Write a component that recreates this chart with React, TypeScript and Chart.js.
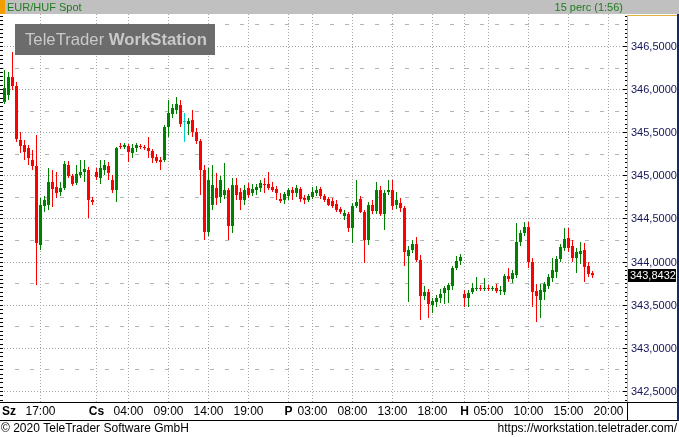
import React, { useEffect, useRef } from 'react';
import { Chart, registerables } from 'chart.js';

Chart.register(...registerables);

// EUR/HUF spot, 30-minute candles (Wed 12:30 .. Mon 18:30), compressed-hour time axis
const OPEN = [
  345.851, 345.932, 346.141, 346.036, 345.410, 345.352, 345.317, 345.178, 345.109, 344.193,
  344.645, 344.657, 344.923, 344.865, 344.807, 344.854, 345.120, 344.993, 344.912, 345.004,
  345.039, 345.062, 344.715, 345.039, 344.970, 345.062, 345.109, 344.946, 344.830, 345.341,
  345.329, 345.341, 345.259, 345.317, 345.341, 345.329, 345.317, 345.283, 345.213, 345.178,
  345.178, 345.561, 345.712, 345.758, 345.816, 345.619, 345.596, 345.642, 345.503, 345.399,
  345.062, 344.344, 344.657, 344.854, 344.749, 344.772, 344.830, 344.413, 344.888, 344.807,
  344.715, 344.854, 344.796, 344.830, 344.854, 344.900, 344.900, 344.865, 344.842, 344.726,
  344.715, 344.761, 344.830, 344.796, 344.842, 344.738, 344.715, 344.749, 344.796, 344.842,
  344.761, 344.726, 344.703, 344.668, 344.610, 344.529, 344.552, 344.390, 344.645, 344.726,
  344.575, 344.251, 344.657, 344.587, 344.830, 344.552, 344.807, 344.830, 344.657, 344.680,
  344.622, 344.065, 344.135, 344.204, 344.019, 343.601, 343.648, 343.497, 343.532, 343.578,
  343.636, 343.671, 343.717, 343.926, 344.007, 343.625, 343.578, 343.648, 343.683, 343.694,
  343.683, 343.694, 343.683, 343.694, 343.659, 343.648, 343.833, 343.799, 343.845, 344.228,
  344.332, 344.401, 343.996, 343.659, 343.555, 343.648, 343.717, 343.810, 343.880, 344.030,
  344.158, 344.274, 344.181, 344.042, 344.088, 344.135, 343.949, 343.868,
];
const HIGH = [
  346.222, 346.199, 346.430, 346.083, 345.503, 345.410, 345.352, 345.294, 345.468, 344.738,
  344.761, 345.086, 345.062, 345.039, 344.923, 345.167, 345.167, 345.016, 345.120, 345.178,
  345.178, 345.097, 344.749, 345.086, 345.178, 345.178, 345.155, 345.004, 345.329, 345.375,
  345.375, 345.364, 345.364, 345.375, 345.364, 345.352, 345.445, 345.306, 345.248, 345.213,
  345.584, 345.874, 345.828, 345.909, 345.874, 345.723, 345.665, 345.758, 345.549, 345.422,
  345.120, 345.086, 345.120, 345.028, 344.993, 345.143, 344.854, 344.970, 344.970, 344.854,
  344.888, 344.912, 344.900, 344.900, 344.946, 344.970, 345.039, 344.923, 344.877, 344.796,
  344.807, 344.854, 344.865, 344.888, 344.865, 344.772, 344.784, 344.865, 344.877, 344.865,
  344.784, 344.749, 344.738, 344.715, 344.633, 344.599, 344.575, 344.680, 344.946, 344.761,
  344.599, 344.691, 344.715, 344.923, 344.877, 344.830, 344.946, 344.946, 344.807, 344.738,
  344.645, 344.181, 344.251, 344.286, 344.077, 343.717, 343.683, 343.578, 343.613, 343.683,
  343.717, 343.752, 343.949, 344.065, 344.088, 343.671, 343.671, 343.752, 343.822, 343.729,
  343.810, 343.729, 343.717, 343.741, 343.717, 343.857, 343.926, 343.903, 344.448, 344.367,
  344.459, 344.459, 344.042, 343.741, 343.741, 343.764, 343.857, 344.042, 344.065, 344.204,
  344.390, 344.390, 344.251, 344.158, 344.228, 344.216, 343.996, 343.891,
];
const LOW = [
  345.828, 345.874, 345.990, 345.387, 345.259, 345.178, 345.120, 345.062, 343.729, 344.135,
  344.575, 344.599, 344.633, 344.738, 344.761, 344.830, 344.970, 344.877, 344.888, 344.970,
  344.923, 344.506, 344.657, 344.946, 344.900, 345.004, 344.946, 344.796, 344.691, 345.306,
  345.306, 345.155, 345.201, 345.271, 345.306, 345.294, 345.201, 345.143, 345.143, 345.062,
  345.155, 345.445, 345.665, 345.712, 345.561, 345.387, 345.468, 345.445, 345.364, 344.772,
  344.251, 344.297, 344.599, 344.657, 344.680, 344.726, 344.251, 344.332, 344.715, 344.599,
  344.657, 344.738, 344.761, 344.772, 344.807, 344.796, 344.830, 344.807, 344.715, 344.680,
  344.668, 344.715, 344.715, 344.749, 344.691, 344.668, 344.691, 344.726, 344.761, 344.726,
  344.691, 344.645, 344.622, 344.575, 344.552, 344.483, 344.344, 344.216, 344.622, 344.564,
  343.984, 344.193, 344.552, 344.552, 344.529, 344.367, 344.772, 344.599, 344.610, 344.575,
  343.949, 343.532, 344.100, 343.996, 343.323, 343.555, 343.346, 343.404, 343.474, 343.520,
  343.509, 343.520, 343.671, 343.903, 343.961, 343.474, 343.474, 343.625, 343.659, 343.659,
  343.659, 343.659, 343.659, 343.636, 343.613, 343.613, 343.764, 343.752, 343.810, 344.181,
  344.297, 343.926, 343.474, 343.300, 343.346, 343.555, 343.683, 343.764, 343.810, 343.996,
  344.123, 344.112, 343.996, 343.868, 343.972, 343.764, 343.822, 343.810,
];
const CLOSE = [
  346.013, 346.141, 346.036, 345.422, 345.341, 345.271, 345.201, 345.109, 344.216, 344.657,
  344.715, 344.923, 344.842, 344.796, 344.854, 345.132, 344.993, 344.900, 345.016, 345.039,
  345.074, 344.715, 344.691, 344.981, 345.086, 345.120, 345.028, 344.830, 345.317, 345.329,
  345.352, 345.271, 345.317, 345.352, 345.329, 345.317, 345.283, 345.201, 345.167, 345.155,
  345.561, 345.723, 345.781, 345.828, 345.596, 345.619, 345.630, 345.503, 345.399, 345.062,
  344.344, 344.946, 344.888, 344.738, 344.946, 344.830, 344.413, 344.888, 344.772, 344.715,
  344.830, 344.772, 344.842, 344.865, 344.912, 344.888, 344.854, 344.830, 344.796, 344.703,
  344.784, 344.830, 344.796, 344.854, 344.726, 344.715, 344.761, 344.807, 344.830, 344.761,
  344.715, 344.657, 344.645, 344.599, 344.575, 344.564, 344.390, 344.645, 344.691, 344.575,
  344.251, 344.657, 344.587, 344.830, 344.552, 344.796, 344.830, 344.645, 344.715, 344.622,
  344.112, 344.135, 344.204, 344.019, 343.601, 343.648, 343.509, 343.543, 343.578, 343.625,
  343.694, 343.729, 343.926, 344.007, 344.054, 343.578, 343.636, 343.694, 343.694, 343.683,
  343.694, 343.683, 343.694, 343.659, 343.671, 343.833, 343.799, 343.868, 344.228, 344.332,
  344.401, 343.996, 343.648, 343.601, 343.671, 343.741, 343.822, 343.903, 344.030, 344.170,
  344.262, 344.158, 344.042, 344.112, 344.123, 343.938, 343.857, 343.8432,
];

// time axis (hours on the compressed session axis: Thu 00:00 = 24, Fri 00:00 = 48, Mon start = 70)
const FIRST_CANDLE_HOUR = 12.5;
const CANDLE_STEP_HOURS = 0.5;
const HOUR_TICKS = [17, 28, 33, 38, 43, 51, 56, 61, 66, 73, 78, 83, 88];
const HOUR_LABELS = ['17:00', '04:00', '09:00', '14:00', '19:00', '03:00', '08:00', '13:00', '18:00', '05:00', '10:00', '15:00', '20:00'];
const DAY_TICKS = [24, 48, 70];
const DAY_LABELS = ['Cs', 'P', 'H'];
const FIRST_DAY_LABEL = 'Sz';

const PRICE_LEVELS = [342.5, 343.0, 343.5, 344.0, 344.5, 345.0, 345.5, 346.0, 346.5];
const LAST_PRICE = 343.8432;

const TITLE = 'EUR/HUF Spot';
const PERIOD = '15 perc (1:56)';
const COPYRIGHT = '\u00a9 2020 TeleTrader Software GmbH';
const URL_TEXT = 'https://workstation.teletrader.com/';

const W = 679;
const H = 437;
const FONT = '"Liberation Sans", Arial, sans-serif';

const fmt = (v: number) => v.toFixed(4).replace('.', ',');

const framePlugin = {
  id: 'ttFrame',
  beforeDatasetsDraw(chart: any) {
    const { ctx, chartArea: a, scales } = chart;
    const x = scales.x;
    const y = scales.y;
    ctx.save();
    // minor dashed levels
    ctx.lineWidth = 1;
    ctx.strokeStyle = '#b4b4b4';
    ctx.setLineDash([4, 11]);
    for (const p of PRICE_LEVELS.concat([PRICE_LEVELS[PRICE_LEVELS.length - 1] + 0.5])) {
      const v = p - 0.25;
      const py = Math.round(y.getPixelForValue(v)) + 0.5;
      if (py < a.top || py > a.bottom) continue;
      ctx.beginPath();
      ctx.moveTo(0, py);
      ctx.lineTo(a.right, py);
      ctx.stroke();
    }
    // major dotted levels
    ctx.strokeStyle = '#a4a4a4';
    ctx.setLineDash([1, 2]);
    for (const p of PRICE_LEVELS) {
      const py = Math.round(y.getPixelForValue(p)) + 0.5;
      ctx.beginPath();
      ctx.moveTo(4, py);
      ctx.lineTo(a.right, py);
      ctx.stroke();
    }
    // vertical dotted
    for (const t of HOUR_TICKS.concat(DAY_TICKS)) {
      const px = Math.floor(x.getPixelForValue(t)) + 0.5;
      ctx.beginPath();
      ctx.moveTo(px, a.top);
      ctx.lineTo(px, a.bottom);
      ctx.stroke();
    }
    ctx.setLineDash([]);

    // watermark
    ctx.fillStyle = '#6c6c6c';
    ctx.fillRect(15, 24, 200, 31);
    const t1 = 'TeleTrader ';
    const t2 = 'WorkStation';
    let size = 18;
    for (let k = 0; k < 20; k++) {
      ctx.font = `${size}px ${FONT}`;
      const w1 = ctx.measureText(t1).width;
      ctx.font = `bold ${size}px ${FONT}`;
      const w2 = ctx.measureText(t2).width;
      const tot = w1 + w2;
      if (Math.abs(tot - 182) < 0.5) break;
      size = size * 182 / tot;
    }
    ctx.fillStyle = '#c9c9c9';
    ctx.textBaseline = 'middle';
    ctx.textAlign = 'left';
    ctx.font = `${size}px ${FONT}`;
    const w1 = ctx.measureText(t1).width;
    ctx.fillText(t1, 25, 40);
    ctx.font = `bold ${size}px ${FONT}`;
    ctx.fillText(t2, 25 + w1, 40);
    ctx.restore();
  },
  afterDraw(chart: any) {
    const { ctx, chartArea: a, scales } = chart;
    const x = scales.x;
    const y = scales.y;
    ctx.save();
    ctx.setLineDash([]);

    // header bar
    ctx.fillStyle = '#c0c0c0';
    ctx.fillRect(0, 0, W, 14);
    ctx.fillStyle = '#f29d00';
    ctx.fillRect(0, 0, 5, 14);
    ctx.font = `11px ${FONT}`;
    ctx.textBaseline = 'middle';
    ctx.fillStyle = '#1e7d1e';
    ctx.textAlign = 'left';
    ctx.fillText(TITLE, 7, 7.5);
    ctx.textAlign = 'right';
    ctx.fillText(PERIOD, 623, 7.5);

    // right axis area
    ctx.fillStyle = '#ffffff';
    ctx.fillRect(628, 14, W - 628, 388);
    ctx.fillStyle = '#e2b43c';
    ctx.fillRect(627, 15, 1, 388);
    ctx.fillRect(627, 15, 50, 1);
    ctx.fillStyle = '#1b2a66';
    ctx.fillRect(677, 14, 2, 407);

    // ticks on left and right edges
    ctx.fillStyle = '#000000';
    const lo = Math.ceil(y.min * 20);
    const hi = Math.floor(y.max * 20);
    for (let k = lo; k <= hi; k++) {
      const v = k / 20;
      const py = Math.round(y.getPixelForValue(v));
      if (py < a.top + 1 || py > a.bottom - 1) continue;
      const major = k % 10 === 0;
      ctx.fillRect(0, py, 3, 1);
      if (major) ctx.fillRect(623, py, 4, 1);
      else ctx.fillRect(625, py, 2, 1);
    }

    // price labels
    ctx.font = `11px ${FONT}`;
    ctx.textAlign = 'left';
    ctx.textBaseline = 'middle';
    ctx.fillStyle = '#14145a';
    for (const p of PRICE_LEVELS) {
      const py = Math.round(y.getPixelForValue(p));
      ctx.fillText(fmt(p), 631, py + 0.5);
    }
    // last price box
    const lp = Math.round(y.getPixelForValue(LAST_PRICE));
    ctx.fillStyle = '#000000';
    ctx.fillRect(628, lp - 6, 48, 13);
    ctx.fillStyle = '#ffffff';
    ctx.fillText(fmt(LAST_PRICE), 630, lp + 0.5);

    // time axis band
    ctx.fillStyle = '#ffffff';
    ctx.fillRect(0, 403, W, 34);
    ctx.fillStyle = '#000000';
    ctx.fillRect(0, 402, W, 1);
    ctx.fillRect(0, 420, W, 1);
    ctx.fillRect(627, 402, 1, 19);
    ctx.fillStyle = '#1b2a66';
    ctx.fillRect(677, 402, 2, 19);

    ctx.fillStyle = '#000000';
    ctx.textBaseline = 'middle';
    ctx.font = `bold 12px ${FONT}`;
    ctx.textAlign = 'left';
    ctx.fillText(FIRST_DAY_LABEL, 2, 411.5);
    ctx.textAlign = 'center';
    DAY_TICKS.forEach((t, i) => {
      ctx.fillText(DAY_LABELS[i], Math.floor(x.getPixelForValue(t)) + 0.5, 411.5);
    });
    ctx.font = `12px ${FONT}`;
    HOUR_TICKS.forEach((t, i) => {
      ctx.fillText(HOUR_LABELS[i], Math.floor(x.getPixelForValue(t)) + 0.5, 411.5);
    });

    // footer
    ctx.font = `12px ${FONT}`;
    ctx.textAlign = 'left';
    ctx.fillText(COPYRIGHT, 1, 428.5);
    ctx.textAlign = 'right';
    ctx.fillText(URL_TEXT, 677, 428.5);
    ctx.restore();
  },
};

const candleColor = (i: number) =>
  CLOSE[i] > OPEN[i] ? '#008000' : CLOSE[i] < OPEN[i] ? '#ff0000' : '#00d0d0';

export default function App() {
  const ref = useRef<HTMLCanvasElement>(null);

  useEffect(() => {
    document.body.style.margin = '0';
    const canvas = ref.current;
    if (!canvas) return;
    const times = OPEN.map((_, i) => FIRST_CANDLE_HOUR + i * CANDLE_STEP_HOURS);
    const colors = OPEN.map((_, i) => candleColor(i));
    const hiddenAxis = {
      display: false,
      offset: false,
      grid: { display: false, drawTicks: false },
      ticks: { display: false, padding: 0 },
      border: { display: false },
    };
    const chart = new Chart(canvas, {
      type: 'bar',
      data: {
        datasets: [
          {
            label: 'body',
            data: times.map((t, i) => ({ x: t, y: [OPEN[i], CLOSE[i]] })) as any,
            backgroundColor: colors,
            borderWidth: 0,
            barThickness: 3,
            minBarLength: 1,
            grouped: false,
            inflateAmount: 0,
            order: 1,
          } as any,
          {
            label: 'wick',
            data: times.map((t, i) => ({ x: t, y: [LOW[i], HIGH[i]] })) as any,
            backgroundColor: colors,
            borderWidth: 0,
            barThickness: 1,
            grouped: false,
            inflateAmount: 0,
            order: 2,
          } as any,
        ],
      },
      options: {
        responsive: false,
        animation: false,
        devicePixelRatio: 1,
        events: [],
        layout: { autoPadding: false, padding: { left: 1, top: 14, right: 55, bottom: 35 } },
        scales: {
          x: { ...hiddenAxis, type: 'linear', min: 12.0625, max: 89.9375 } as any,
          y: { ...hiddenAxis, type: 'linear', min: 342.37246, max: 346.87101 } as any,
        },
        plugins: {
          legend: { display: false },
          tooltip: { enabled: false },
        },
      },
      plugins: [framePlugin],
    });
    return () => chart.destroy();
  }, []);

  return (
    <div style={{ width: W, height: H, position: 'relative', background: '#fff' }}>
      <canvas ref={ref} width={W} height={H} style={{ display: 'block' }} />
    </div>
  );
}
